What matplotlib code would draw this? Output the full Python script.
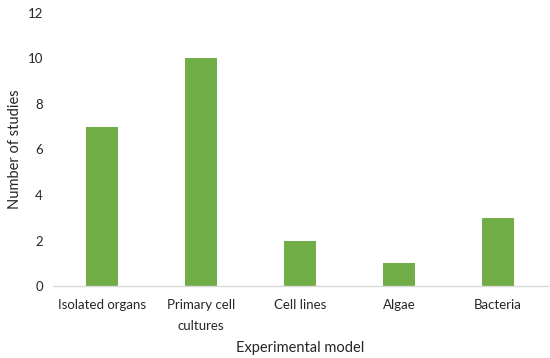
import matplotlib
matplotlib.use("Agg")
import matplotlib.pyplot as plt
import numpy as np

categories = ["Isolated organs", "Primary cell\ncultures", "Cell lines", "Algae", "Bacteria"]
studies = [7, 10, 2, 1, 3]
yticks = [0, 2, 4, 6, 8, 10, 12]

plt.rcParams['font.family'] = ['Lato', 'DejaVu Sans']

fig = plt.figure(figsize=(5.5, 3.58), dpi=100)
ax = fig.add_axes([0.0955, 0.201, 0.9, 0.763])

x = np.arange(len(categories))
ax.bar(x, studies, width=0.32, color="#70AD47", zorder=2)

ax.set_xlim(-0.5, len(categories) - 0.5)
ax.set_ylim(0, 12)
ax.set_yticks(yticks)
ax.set_xticks(x)
ax.set_xticklabels(categories, fontsize=9.5, color="#262626", linespacing=1.9)
ax.tick_params(axis='y', labelsize=9.5, labelcolor="#262626", length=0, pad=7)
ax.tick_params(axis='x', length=0, pad=9)

for s in ["top", "right", "left"]:
    ax.spines[s].set_visible(False)
ax.spines["bottom"].set_color("#D9D9D9")
ax.spines["bottom"].set_linewidth(1.0)

ax.set_ylabel("Number of studies", fontsize=10.5, color="#262626")
ax.yaxis.set_label_coords(-0.062, 0.5)
ax.set_xlabel("Experimental model", fontsize=10.5, color="#262626")
ax.xaxis.set_label_coords(0.5, -0.2)

fig.savefig("out.png", dpi=100)
